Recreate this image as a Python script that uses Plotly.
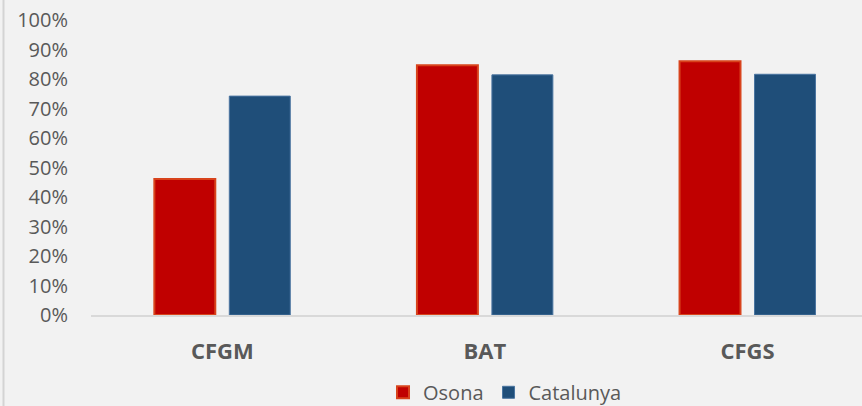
import plotly.graph_objects as go

# Share per level of study, Osona vs Catalunya
categories = ["CFGM", "BAT", "CFGS"]
osona = [0.461, 0.847, 0.860]
catalunya = [0.742, 0.814, 0.816]
tick_vals = [i / 10 for i in range(11)]
tick_text = [f"{i * 10}%" for i in range(11)]

RED = "#c00000"
BLUE = "#1f4e79"
GREY_TEXT = "#595959"
BG = "#f2f2f2"

fig = go.Figure()
fig.add_trace(go.Bar(
    name="Osona", x=categories, y=osona,
    marker=dict(color=RED, line=dict(color="#d8431c", width=2)),
))
fig.add_trace(go.Bar(
    name="Catalunya", x=categories, y=catalunya,
    marker=dict(color=BLUE, line=dict(color="#4a74a0", width=1)),
))

fig.update_layout(
    width=862, height=406,
    margin=dict(l=91, r=0, t=20, b=91, autoexpand=False),
    paper_bgcolor=BG, plot_bgcolor=BG,
    font=dict(family="Open Sans", size=20, color=GREY_TEXT),
    barmode="group", bargap=0.429, bargroupgap=0.187,
    showlegend=True,
    legend=dict(orientation="h", x=0.537, xanchor="center",
                y=-0.262, yanchor="middle", bgcolor="rgba(0,0,0,0)",
                font=dict(size=20, color=GREY_TEXT)),
)
fig.update_xaxes(
    range=[-0.5, 2.436], showgrid=False, zeroline=False,
    showline=True, linecolor="#d9d9d9", linewidth=1.5,
    ticks="", ticklabelstandoff=16,
    tickfont=dict(family="Open Sans", size=22, color=GREY_TEXT, weight="bold"),
)
fig.update_yaxes(
    range=[0, 1], tickvals=tick_vals, ticktext=tick_text,
    showgrid=False, zeroline=False, showline=False,
    ticks="", ticklabelstandoff=22,
)

# left chart border, partly visible in the original
fig.add_shape(type="line", xref="paper", yref="paper",
              x0=-0.1135, x1=-0.1135, y0=-0.31, y1=1.07,
              line=dict(color="#d4d4d4", width=2))

# page body margin would push the figure off the window
fig.write_html("out.html", config={"displayModeBar": False},
               post_script="document.body.style.margin='0';")
